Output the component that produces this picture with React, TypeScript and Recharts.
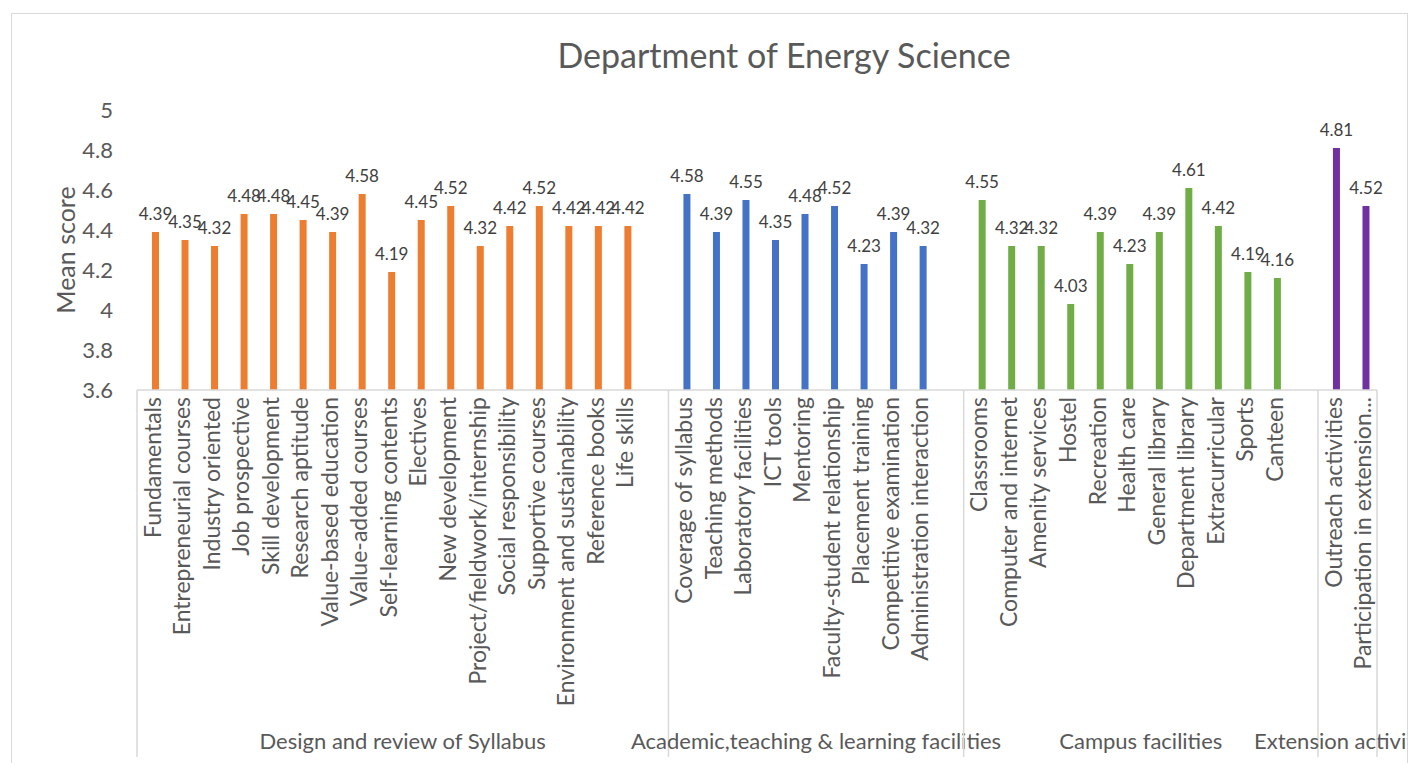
import { BarChart, Bar, XAxis, YAxis, Cell, LabelList } from 'recharts';

const groupNames = [
  'Design and review of Syllabus',
  'Academic,teaching & learning facilities',
  'Campus facilities',
  'Extension activities',
];
const groupColors = ['#ED7D31', '#4472C4', '#70AD47', '#7030A0'];

const syllabusItems = [
  'Fundamentals', 'Entrepreneurial courses', 'Industry oriented', 'Job prospective',
  'Skill development', 'Research aptitude', 'Value-based education', 'Value-added courses',
  'Self-learning contents', 'Electives', 'New development', 'Project/fieldwork/internship',
  'Social responsibility', 'Supportive courses', 'Environment and sustainability',
  'Reference books', 'Life skills',
];
const syllabusScores = [4.39, 4.35, 4.32, 4.48, 4.48, 4.45, 4.39, 4.58, 4.19, 4.45, 4.52, 4.32, 4.42, 4.52, 4.42, 4.42, 4.42];

const academicItems = [
  'Coverage of syllabus', 'Teaching methods', 'Laboratory facilities', 'ICT tools', 'Mentoring',
  'Faculty-student relationship', 'Placement training', 'Competitive examination',
  'Administration interaction',
];
const academicScores = [4.58, 4.39, 4.55, 4.35, 4.48, 4.52, 4.23, 4.39, 4.32];

const campusItems = [
  'Classrooms', 'Computer and internet', 'Amenity services', 'Hostel', 'Recreation', 'Health care',
  'General library', 'Department library', 'Extracurricular', 'Sports', 'Canteen',
];
const campusScores = [4.55, 4.32, 4.32, 4.03, 4.39, 4.23, 4.39, 4.61, 4.42, 4.19, 4.16];

const extensionItems = ['Outreach activities', 'Participation in extension...'];
const extensionScores = [4.81, 4.52];

const yTicks = [3.6, 3.8, 4, 4.2, 4.4, 4.6, 4.8, 5];

const groupItems = [syllabusItems, academicItems, campusItems, extensionItems];
const groupScores = [syllabusScores, academicScores, campusScores, extensionScores];

type Row = { id: string; label: string; score: number | null; group: number; first: boolean; span: number };

// one empty slot after each group, like the source sheet
const rows: Row[] = [];
groupItems.forEach((items, g) => {
  const isLast = g === groupItems.length - 1;
  const span = items.length + (isLast ? 0 : 1);
  items.forEach((label, i) =>
    rows.push({ id: `${g}-${i}`, label, score: groupScores[g][i], group: g, first: i === 0, span })
  );
  if (!isLast) rows.push({ id: `${g}-gap`, label: '', score: null, group: g, first: false, span });
});
const rowById: Record<string, Row> = {};
rows.forEach((r) => (rowById[r.id] = r));

const FONT = 'Lato, "Open Sans", sans-serif';
const TEXT = '#595959';
const LINE = '#d9d9d9';
const CHART_W = 1395;
const CHART_H = 760;
const MARGIN = { top: 96, right: 30, bottom: 14, left: 0 };
const Y_W = 125;
const STEP = (CHART_W - MARGIN.left - MARGIN.right - Y_W) / rows.length;

function CategoryTick(props: any) {
  const { x, y, payload } = props;
  const row = rowById[payload.value];
  if (!row) return null;
  const left = x - STEP / 2;
  const isLastRow = row === rows[rows.length - 1];
  return (
    <g>
      {row.label && (
        <text
          x={x}
          y={y + 7}
          transform={`rotate(-90 ${x} ${y + 7})`}
          textAnchor="end"
          dominantBaseline="central"
          fontFamily={FONT}
          fontSize={23}
          fill={TEXT}
        >
          {row.label}
        </text>
      )}
      {row.first && <line x1={left} x2={left} y1={y} y2={y + 367} stroke={LINE} strokeWidth={1.5} />}
      {row.first && (
        <text
          x={left + (row.span * STEP) / 2}
          y={y + 350}
          textAnchor="middle"
          dominantBaseline="central"
          fontFamily={FONT}
          fontSize={22}
          fill={TEXT}
        >
          {groupNames[row.group]}
        </text>
      )}
      {isLastRow && (
        <line x1={x + STEP / 2} x2={x + STEP / 2} y1={y} y2={y + 367} stroke={LINE} strokeWidth={1.5} />
      )}
    </g>
  );
}

export default function App() {
  return (
    <div style={{ position: 'fixed', inset: 0, overflow: 'hidden', background: '#fff' }}>
      <div
        style={{
          position: 'absolute',
          left: 11,
          top: 13,
          width: CHART_W,
          height: 800,
          border: `1px solid ${LINE}`,
          overflow: 'hidden',
        }}
      >
        <div
          style={{
            position: 'absolute',
            left: 772,
            top: 23,
            transform: 'translateX(-50%)',
            whiteSpace: 'nowrap',
            fontFamily: FONT,
            fontSize: 34,
            lineHeight: '36px',
            color: TEXT,
          }}
        >
          Department of Energy Science
        </div>
        <BarChart width={CHART_W} height={CHART_H} data={rows} margin={MARGIN} barGap={1}>
          <XAxis
            dataKey="id"
            type="category"
            interval={0}
            height={370}
            tickLine={false}
            tickSize={0}
            tickMargin={0}
            axisLine={{ stroke: LINE, strokeWidth: 1.5 }}
            tick={<CategoryTick />}
          />
          <YAxis
            width={Y_W}
            domain={[3.6, 5]}
            ticks={yTicks}
            allowDataOverflow
            axisLine={false}
            tickLine={false}
            tickSize={0}
            tickMargin={24}
            tick={{ fontFamily: FONT, fontSize: 22, fill: TEXT }}
            label={{
              content: ({ viewBox }: any) => {
                const cx = viewBox.x + 53;
                const cy = viewBox.y + viewBox.height / 2;
                return (
                  <text
                    x={cx}
                    y={cy}
                    transform={`rotate(-90 ${cx} ${cy})`}
                    textAnchor="middle"
                    dominantBaseline="central"
                    fontFamily={FONT}
                    fontSize={25}
                    fill={TEXT}
                  >
                    Mean score
                  </text>
                );
              },
            }}
          />
          <Bar dataKey="pad" barSize={7} isAnimationActive={false} />
          <Bar dataKey="score" barSize={7} isAnimationActive={false}>
            {rows.map((r) => (
              <Cell key={r.id} fill={groupColors[r.group]} />
            ))}
            <LabelList
              dataKey="score"
              position="top"
              offset={12}
              fill="#404040"
              fontSize={17}
              fontFamily={FONT}
              formatter={(v: any) => (v == null ? '' : v)}
            />
          </Bar>
        </BarChart>
      </div>
    </div>
  );
}
